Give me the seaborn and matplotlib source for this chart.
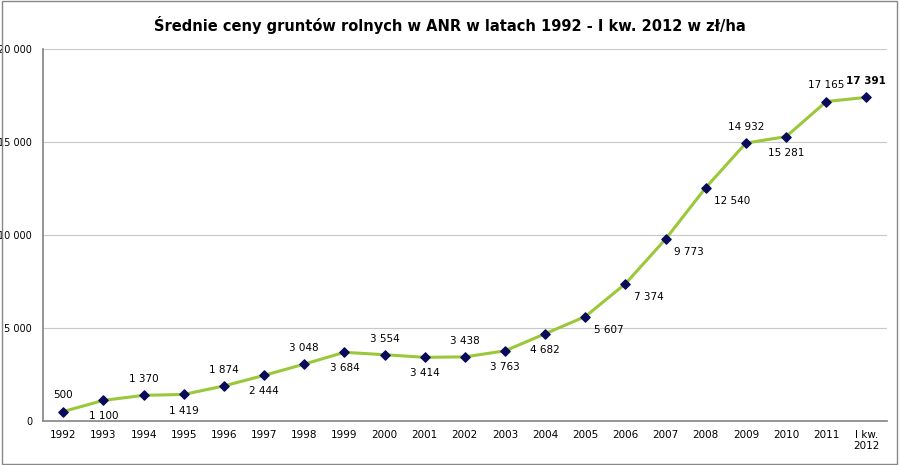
import matplotlib
matplotlib.use("Agg")
import matplotlib.pyplot as plt
import seaborn as sns
import pandas as pd
from matplotlib.ticker import FuncFormatter

years = ["1992", "1993", "1994", "1995", "1996", "1997", "1998", "1999", "2000", "2001",
         "2002", "2003", "2004", "2005", "2006", "2007", "2008", "2009", "2010", "2011", "I kw.\n2012"]
prices = [500, 1100, 1370, 1419, 1874, 2444, 3048, 3684, 3554, 3414,
          3438, 3763, 4682, 5607, 7374, 9773, 12540, 14932, 15281, 17165, 17391]
# label placement: a = above, b = below, r = right-below
label_pos = ["a", "b", "a", "b", "a", "b", "a", "b", "a", "b",
             "a", "b", "b", "r", "r", "r", "r", "a", "b", "a", "a"]

def fmt(v):
    return f"{int(v):,}".replace(",", " ")

df = pd.DataFrame({"x": range(len(years)), "y": prices})

sns.set_theme(style="white")
plt.rcParams["text.color"] = "black"
fig = plt.figure(figsize=(9, 4.65), dpi=100)
ax = fig.add_axes([0.048, 0.095, 0.937, 0.8])

sns.lineplot(data=df, x="x", y="y", ax=ax, color="#9BC83A", linewidth=2.2)
ax.scatter(df["x"], df["y"], marker="D", s=22, color="#0A0A5A", zorder=3)

for i, (v, p) in enumerate(zip(prices, label_pos)):
    bold = "bold" if i == len(prices) - 1 else "normal"
    if p == "a":
        ax.annotate(fmt(v), (i, v), xytext=(0, 8), textcoords="offset points",
                    ha="center", va="bottom", fontsize=7.5, fontweight=bold)
    elif p == "b":
        ax.annotate(fmt(v), (i, v), xytext=(0, -8), textcoords="offset points",
                    ha="center", va="top", fontsize=7.5)
    else:
        ax.annotate(fmt(v), (i, v), xytext=(6, -6), textcoords="offset points",
                    ha="left", va="top", fontsize=7.5)

ax.set_xlim(-0.5, len(years) - 0.5)
ax.set_ylim(0, 20000)
ax.set_yticks(range(0, 20001, 5000))
ax.yaxis.set_major_formatter(FuncFormatter(lambda v, _: fmt(v)))
ax.set_xticks(range(len(years)))
ax.set_xticklabels(years, fontsize=7.5, color="black")
ax.tick_params(axis="y", labelsize=7, labelcolor="black", pad=2)
ax.grid(axis="y", color="#C8C8C8", linewidth=0.8)
ax.set_xlabel("")
ax.set_ylabel("")
for s in ["top", "right"]:
    ax.spines[s].set_visible(False)
for s in ["left", "bottom"]:
    ax.spines[s].set_color("#888888")
ax.tick_params(axis="x", length=3, color="#888888")

fig.suptitle("Średnie ceny gruntów rolnych w ANR w latach 1992 - I kw. 2012 w zł/ha",
             fontsize=10.5, fontweight="bold", y=0.965)
fig.patches.append(plt.Rectangle((0.002, 0.003), 0.995, 0.994, transform=fig.transFigure,
                                 fill=False, edgecolor="#888888", linewidth=1))
fig.savefig("out.png", dpi=100)
